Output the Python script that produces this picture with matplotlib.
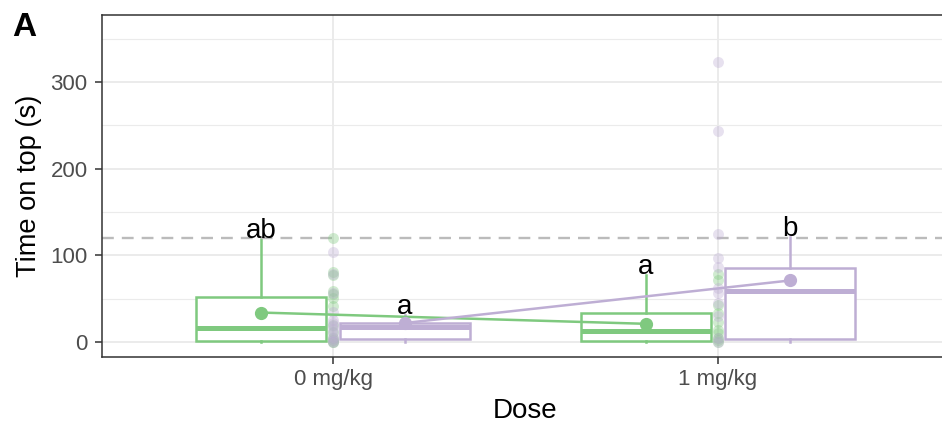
import matplotlib
matplotlib.use("Agg")
import matplotlib.pyplot as plt
from matplotlib.ticker import MultipleLocator

plt.rcParams['font.family'] = ['Liberation Sans', 'DejaVu Sans']

# ---- data ----
doses = ["0 mg/kg", "1 mg/kg"]
green_color = "#7FC97F"
purple_color = "#BEAED4"

# individual observations (time on top, s)
green_points_0 = [120, 81, 77, 59, 55, 51, 42, 20, 12, 5, 2, 0, 0]
purple_points_0 = [104, 79, 56, 35, 25, 22, 18, 15, 10, 6, 3, 1, 0]
green_points_1 = [79, 71, 43, 33, 23, 14, 10, 5, 2, 0]
purple_points_1 = [323, 243, 125, 97, 87, 62, 57, 45, 30, 5, 0]

# box summaries per dose
green_q1 = [1.5, 1.0]
green_median = [16, 13]
green_q3 = [52, 34]
green_whislo = [0, 0]
green_whishi = [119, 77]
green_mean = [34, 21]

purple_q1 = [3, 3]
purple_median = [17.5, 59]
purple_q3 = [22, 85.5]
purple_whislo = [0, 0]
purple_whishi = [31, 121]
purple_mean = [22, 71]

green_letters = ["ab", "a"]
purple_letters = ["a", "b"]

reference_line = 120

# ---- figure ----
W, H = 942, 428
fig = plt.figure(figsize=(W / 100, H / 100), dpi=100)
left_px, right_px, top_px, bottom_px = 102, 949, 15, 356.5
ax = fig.add_axes([left_px / W, 1 - bottom_px / H,
                   (right_px - left_px) / W, (bottom_px - top_px) / H])

ax.set_xlim(0.4, 2.6)
ax.set_ylim(-16.7, 377.3)

# grid
ax.set_axisbelow(True)
ax.yaxis.set_major_locator(MultipleLocator(100))
ax.yaxis.set_minor_locator(MultipleLocator(50))
ax.grid(which='major', axis='both', color='#EBEBEB', lw=1.4)
ax.grid(which='minor', axis='y', color='#EBEBEB', lw=0.8)
ax.tick_params(which='minor', left=False)

xpos = [1, 2]
offset = 0.187
box_w = 0.34


def draw_boxes(q1, med, q3, lo, hi, positions, color):
    stats = []
    for i in range(len(positions)):
        stats.append(dict(q1=q1[i], med=med[i], q3=q3[i],
                          whislo=lo[i], whishi=hi[i], fliers=[]))
    ax.bxp(stats, positions=positions, widths=box_w, showcaps=False,
           showfliers=False, patch_artist=True, manage_ticks=False,
           boxprops=dict(facecolor='white', edgecolor=color, lw=1.8),
           medianprops=dict(color=color, lw=3.6, solid_capstyle='butt'),
           whiskerprops=dict(color=color, lw=1.8))


green_pos = [p - offset for p in xpos]
purple_pos = [p + offset for p in xpos]

draw_boxes(green_q1, green_median, green_q3, green_whislo, green_whishi,
           green_pos, green_color)
draw_boxes(purple_q1, purple_median, purple_q3, purple_whislo, purple_whishi,
           purple_pos, purple_color)

# reference line
ax.axhline(reference_line, color='#BBBBBB', lw=1.7, dashes=(5.0, 3.4), zorder=2.5)

# raw observations
for x, pts, c in [(1, green_points_0, green_color), (1, purple_points_0, purple_color),
                  (2, green_points_1, green_color), (2, purple_points_1, purple_color)]:
    ax.scatter([x] * len(pts), pts, s=62, color=c, alpha=0.36, lw=0, zorder=3)

# group means joined across doses
ax.plot(green_pos, green_mean, '-o', color=green_color, lw=1.8, ms=8.5, zorder=4)
ax.plot(purple_pos, purple_mean, '-o', color=purple_color, lw=1.8, ms=8.5, zorder=4)

# significance letters
for p, y, t in zip(green_pos, green_whishi, green_letters):
    ax.text(p, y + 1, t, ha='center', va='baseline', fontsize=20, color='black', zorder=5)
for p, y, t in zip(purple_pos, purple_whishi, purple_letters):
    ax.text(p, y + 1, t, ha='center', va='baseline', fontsize=20, color='black', zorder=5)

# axes styling
ax.set_xticks(xpos)
ax.set_xticklabels(doses)
for s in ax.spines.values():
    s.set_color('#333333')
    s.set_linewidth(1.1)
ax.tick_params(which='major', length=4.8, width=1.1, color='#333333',
               labelcolor='#4D4D4D', labelsize=16, pad=4)
ax.tick_params(axis='y', which='major', pad=5.5)

ax.set_xlabel("Dose", fontsize=20, color='black')
ax.set_ylabel("Time on top (s)", fontsize=19.6, color='black')
ax.xaxis.set_label_coords(0.5, -(400 - bottom_px) / (bottom_px - top_px) + 0.005)
ax.yaxis.set_label_coords((42 - left_px) / (right_px - left_px), 0.5)

fig.text(12 / W, 1 - 28 / H, "A", fontsize=24, fontweight='bold', va='center', ha='left')

fig.savefig("out.png", dpi=100)
